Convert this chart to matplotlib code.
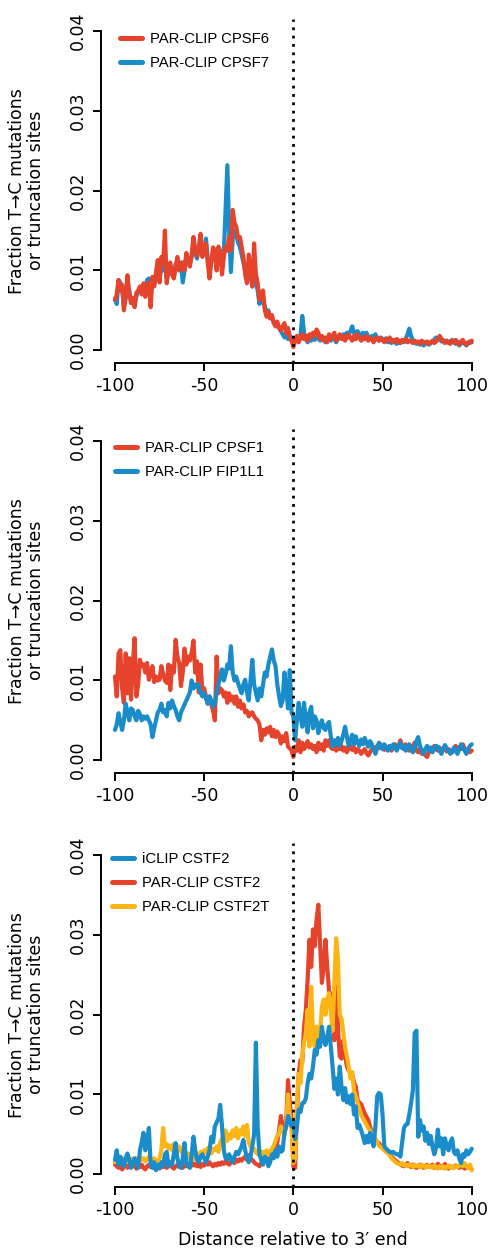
import numpy as np
import matplotlib
matplotlib.use('Agg')
import matplotlib.pyplot as plt

positions = list(range(-100, 101))

# Panel 1
cpsf6 = [
    .0063, .0070, .0088, .0075, .0082, .0050, .0068, .0094, .0072, .0059,
    .0066, .0054, .0072, .0075, .0080, .0070, .0084, .0067, .0078, .0085,
    .0054, .0092, .0080, .0098, .0113, .0085, .0117, .0108, .0150, .0084,
    .0100, .0110, .0095, .0090, .0105, .0117, .0100, .0108, .0110, .0100,
    .0122, .0113, .0105, .0120, .0142, .0125, .0118, .0130, .0146, .0117,
    .0130, .0134, .0110, .0090, .0112, .0129, .0125, .0100, .0130, .0123,
    .0095, .0117, .0130, .0125, .0142, .0125, .0176, .0160, .0155, .0140,
    .0142, .0130, .0117, .0095, .0084, .0120, .0100, .0080, .0134, .0095,
    .0084, .0063, .0070, .0075, .0050, .0042, .0048, .0040, .0044, .0034,
    .0030, .0036, .0028, .0025, .0030, .0034, .0021, .0028, .0017, .0012,
    .0004, .0012, .0018, .0010, .0016, .0020, .0014, .0018, .0012, .0020,
    .0016, .0022, .0018, .0026, .0022, .0014, .0018, .0012, .0016, .0010,
    .0020, .0014, .0018, .0022, .0012, .0016, .0020, .0014, .0018, .0012,
    .0016, .0020, .0015, .0012, .0018, .0014, .0020, .0016, .0012, .0016,
    .0014, .0018, .0012, .0016, .0014, .0010, .0014, .0016, .0012, .0015,
    .0013, .0010, .0014, .0012, .0016, .0011, .0013, .0010, .0014, .0012,
    .0009, .0013, .0011, .0014, .0010, .0012, .0011, .0009, .0012, .0010,
    .0011, .0008, .0012, .0010, .0009, .0011, .0008, .0010, .0012, .0009,
    .0011, .0014, .0018, .0014, .0011, .0009, .0012, .0010, .0008, .0012,
    .0010, .0013, .0009, .0007, .0011, .0013, .0009, .0007, .0010, .0009,
    .0012,
]
cpsf7 = [
    .0065, .0058, .0088, .0085, .0078, .0055, .0065, .0080, .0075, .0062,
    .0060, .0058, .0068, .0072, .0078, .0072, .0080, .0075, .0088, .0090,
    .0068, .0088, .0082, .0094, .0100, .0090, .0105, .0100, .0110, .0090,
    .0098, .0105, .0100, .0092, .0108, .0110, .0102, .0110, .0085, .0100,
    .0115, .0110, .0108, .0118, .0125, .0122, .0115, .0128, .0135, .0120,
    .0125, .0140, .0115, .0100, .0110, .0122, .0120, .0110, .0120, .0125,
    .0105, .0120, .0175, .0232, .0150, .0098, .0140, .0150, .0145, .0135,
    .0130, .0120, .0110, .0100, .0090, .0105, .0095, .0080, .0090, .0085,
    .0075, .0058, .0068, .0060, .0055, .0045, .0050, .0040, .0042, .0035,
    .0032, .0030, .0028, .0024, .0020, .0016, .0018, .0014, .0018, .0012,
    .0010, .0014, .0016, .0012, .0018, .0043, .0022, .0014, .0010, .0016,
    .0012, .0016, .0013, .0018, .0015, .0012, .0016, .0014, .0010, .0014,
    .0016, .0012, .0018, .0014, .0010, .0014, .0018, .0016, .0020, .0018,
    .0022, .0019, .0024, .0030, .0022, .0018, .0024, .0020, .0016, .0022,
    .0018, .0022, .0016, .0014, .0018, .0016, .0020, .0015, .0012, .0016,
    .0014, .0012, .0015, .0010, .0012, .0009, .0012, .0010, .0008, .0011,
    .0009, .0012, .0010, .0014, .0020, .0027, .0018, .0012, .0010, .0008,
    .0010, .0007, .0009, .0006, .0008, .0010, .0007, .0009, .0011, .0013,
    .0016, .0013, .0015, .0011, .0013, .0010, .0012, .0009, .0011, .0013,
    .0010, .0008, .0011, .0006, .0009, .0012, .0008, .0006, .0009, .0011,
    .0010,
]

# Panel 2
cpsf1 = [
    .0105, .0080, .0134, .0138, .0090, .0072, .0134, .0084, .0128, .0076,
    .0120, .0153, .0080, .0095, .0126, .0118, .0120, .0110, .0122, .0101,
    .0110, .0118, .0098, .0105, .0100, .0101, .0118, .0108, .0100, .0097,
    .0120, .0088, .0118, .0110, .0151, .0130, .0122, .0093, .0110, .0140,
    .0120, .0130, .0125, .0135, .0150, .0110, .0124, .0085, .0120, .0088,
    .0090, .0080, .0071, .0080, .0070, .0062, .0050, .0130, .0084, .0090,
    .0088, .0080, .0085, .0072, .0084, .0075, .0080, .0071, .0080, .0067,
    .0075, .0065, .0070, .0060, .0062, .0055, .0059, .0060, .0055, .0052,
    .0050, .0045, .0025, .0038, .0032, .0040, .0035, .0042, .0030, .0038,
    .0029, .0036, .0032, .0021, .0030, .0024, .0034, .0017, .0015, .0012,
    .0004, .0017, .0012, .0025, .0010, .0022, .0014, .0018, .0024, .0016,
    .0020, .0014, .0018, .0010, .0022, .0014, .0020, .0012, .0025, .0018,
    .0025, .0016, .0014, .0018, .0012, .0016, .0014, .0018, .0012, .0016,
    .0010, .0015, .0018, .0013, .0016, .0010, .0014, .0012, .0008, .0011,
    .0014, .0009, .0006, .0010, .0014, .0016, .0012, .0018, .0015, .0020,
    .0016, .0013, .0017, .0014, .0018, .0012, .0016, .0020, .0015, .0018,
    .0025, .0018, .0014, .0020, .0016, .0012, .0018, .0016, .0022, .0012,
    .0010, .0014, .0008, .0012, .0006, .0004, .0010, .0014, .0012, .0018,
    .0014, .0012, .0016, .0010, .0013, .0016, .0011, .0014, .0012, .0010,
    .0014, .0018, .0012, .0016, .0014, .0020, .0015, .0012, .0014, .0010,
    .0012,
]
fip1l1 = [
    .0038, .0045, .0059, .0048, .0038, .0050, .0071, .0060, .0050, .0065,
    .0063, .0055, .0050, .0062, .0058, .0050, .0055, .0052, .0055, .0050,
    .0045, .0029, .0040, .0050, .0060, .0063, .0071, .0060, .0063, .0055,
    .0072, .0065, .0075, .0068, .0063, .0055, .0050, .0060, .0065, .0070,
    .0075, .0080, .0085, .0100, .0090, .0095, .0092, .0095, .0085, .0080,
    .0084, .0078, .0071, .0080, .0075, .0067, .0072, .0085, .0095, .0105,
    .0114, .0100, .0108, .0120, .0115, .0143, .0110, .0100, .0105, .0097,
    .0090, .0084, .0095, .0101, .0085, .0075, .0100, .0126, .0095, .0085,
    .0075, .0090, .0080, .0095, .0110, .0105, .0120, .0130, .0139, .0125,
    .0118, .0095, .0080, .0068, .0075, .0110, .0090, .0065, .0113, .0060,
    .0055, .0025, .0050, .0072, .0055, .0042, .0072, .0050, .0035, .0060,
    .0067, .0040, .0055, .0050, .0034, .0045, .0050, .0040, .0038, .0045,
    .0048, .0030, .0017, .0025, .0020, .0028, .0018, .0024, .0032, .0042,
    .0030, .0018, .0025, .0032, .0020, .0030, .0022, .0018, .0026, .0020,
    .0028, .0022, .0017, .0024, .0020, .0014, .0008, .0016, .0022, .0018,
    .0014, .0020, .0016, .0012, .0018, .0014, .0020, .0016, .0012, .0018,
    .0022, .0015, .0018, .0012, .0016, .0020, .0014, .0010, .0016, .0024,
    .0029, .0018, .0012, .0008, .0014, .0018, .0012, .0016, .0010, .0014,
    .0018, .0017, .0012, .0008, .0014, .0019, .0015, .0012, .0008, .0010,
    .0016, .0012, .0008, .0014, .0020, .0016, .0012, .0008, .0014, .0018,
    .0020,
]

# Panel 3
iclip_cstf2 = [
    .0018, .0030, .0012, .0022, .0015, .0010, .0020, .0026, .0018, .0008,
    .0015, .0020, .0014, .0008, .0030, .0040, .0052, .0030, .0040, .0058,
    .0012, .0008, .0015, .0005, .0012, .0008, .0015, .0010, .0025, .0028,
    .0010, .0015, .0012, .0025, .0039, .0020, .0010, .0008, .0020, .0039,
    .0015, .0010, .0008, .0025, .0047, .0030, .0018, .0015, .0022, .0025,
    .0020, .0015, .0022, .0030, .0047, .0040, .0060, .0065, .0070, .0087,
    .0060, .0030, .0020, .0018, .0025, .0020, .0015, .0022, .0028, .0025,
    .0030, .0035, .0043, .0030, .0020, .0015, .0022, .0035, .0050, .0165,
    .0060, .0025, .0018, .0012, .0022, .0020, .0010, .0015, .0025, .0020,
    .0030, .0022, .0035, .0028, .0030, .0052, .0060, .0073, .0068, .0060,
    .0066, .0044, .0060, .0081, .0078, .0089, .0090, .0095, .0114, .0126,
    .0120, .0135, .0156, .0150, .0168, .0160, .0185, .0170, .0162, .0172,
    .0185, .0160, .0135, .0107, .0120, .0100, .0135, .0110, .0093, .0108,
    .0090, .0098, .0088, .0100, .0075, .0085, .0058, .0062, .0055, .0048,
    .0039, .0048, .0040, .0052, .0042, .0035, .0060, .0098, .0102, .0100,
    .0075, .0035, .0032, .0030, .0028, .0027, .0028, .0026, .0025, .0025,
    .0022, .0040, .0058, .0062, .0063, .0075, .0089, .0105, .0177, .0180,
    .0047, .0068, .0055, .0060, .0042, .0052, .0038, .0048, .0035, .0025,
    .0033, .0056, .0035, .0045, .0025, .0045, .0035, .0030, .0040, .0045,
    .0028, .0025, .0030, .0020, .0014, .0025, .0022, .0030, .0025, .0028,
    .0032,
]
parclip_cstf2 = [
    .0012, .0010, .0008, .0012, .0006, .0010, .0012, .0008, .0011, .0009,
    .0012, .0010, .0007, .0011, .0009, .0012, .0008, .0006, .0010, .0012,
    .0009, .0011, .0008, .0012, .0010, .0007, .0011, .0009, .0012, .0008,
    .0010, .0012, .0009, .0007, .0010, .0012, .0009, .0011, .0008, .0012,
    .0010, .0013, .0010, .0014, .0011, .0013, .0010, .0012, .0009, .0013,
    .0011, .0014, .0012, .0015, .0012, .0010, .0013, .0011, .0014, .0012,
    .0015, .0013, .0016, .0014, .0012, .0015, .0017, .0014, .0018, .0016,
    .0019, .0017, .0020, .0022, .0018, .0024, .0020, .0018, .0015, .0013,
    .0012, .0010, .0014, .0018, .0022, .0020, .0025, .0022, .0028, .0030,
    .0035, .0040, .0055, .0073, .0060, .0050, .0065, .0118, .0090, .0068,
    .0010, .0008, .0076, .0126, .0143, .0140, .0185, .0206, .0244, .0294,
    .0260, .0307, .0286, .0319, .0338, .0290, .0240, .0260, .0294, .0260,
    .0230, .0225, .0219, .0168, .0235, .0185, .0148, .0145, .0168, .0150,
    .0135, .0130, .0128, .0126, .0115, .0110, .0093, .0090, .0088, .0082,
    .0076, .0072, .0068, .0060, .0051, .0046, .0043, .0040, .0039, .0036,
    .0034, .0031, .0030, .0027, .0025, .0022, .0020, .0018, .0016, .0014,
    .0013, .0011, .0010, .0012, .0014, .0011, .0009, .0012, .0010, .0008,
    .0010, .0012, .0011, .0008, .0010, .0012, .0009, .0010, .0012, .0008,
    .0010, .0013, .0011, .0008, .0010, .0013, .0009, .0007, .0010, .0009,
    .0008, .0011, .0010, .0008, .0010, .0009, .0007, .0010, .0008, .0009,
    .0006,
]
parclip_cstf2t = [
    .0015, .0020, .0018, .0014, .0020, .0017, .0022, .0018, .0016, .0020,
    .0018, .0015, .0020, .0017, .0022, .0018, .0020, .0016, .0019, .0022,
    .0018, .0015, .0020, .0017, .0014, .0020, .0030, .0058, .0035, .0038,
    .0032, .0036, .0030, .0038, .0033, .0028, .0035, .0030, .0025, .0030,
    .0022, .0026, .0020, .0024, .0018, .0022, .0020, .0024, .0028, .0025,
    .0030, .0027, .0033, .0030, .0026, .0032, .0030, .0035, .0028, .0040,
    .0045, .0035, .0055, .0042, .0050, .0045, .0055, .0048, .0058, .0045,
    .0055, .0050, .0060, .0048, .0062, .0040, .0035, .0030, .0032, .0028,
    .0025, .0030, .0022, .0028, .0025, .0030, .0024, .0028, .0032, .0036,
    .0042, .0048, .0050, .0060, .0055, .0050, .0060, .0100, .0072, .0058,
    .0014, .0020, .0090, .0126, .0114, .0148, .0165, .0177, .0206, .0160,
    .0235, .0177, .0160, .0185, .0165, .0178, .0210, .0219, .0200, .0219,
    .0227, .0205, .0180, .0240, .0296, .0270, .0200, .0195, .0177, .0160,
    .0148, .0135, .0120, .0128, .0105, .0098, .0090, .0082, .0075, .0070,
    .0066, .0062, .0058, .0055, .0050, .0048, .0045, .0040, .0036, .0034,
    .0032, .0030, .0028, .0026, .0024, .0020, .0018, .0016, .0014, .0013,
    .0012, .0014, .0011, .0012, .0010, .0012, .0011, .0009, .0012, .0010,
    .0011, .0009, .0012, .0010, .0008, .0011, .0009, .0010, .0008, .0011,
    .0009, .0007, .0010, .0008, .0010, .0007, .0009, .0011, .0008, .0010,
    .0008, .0010, .0009, .0011, .0012, .0010, .0014, .0010, .0008, .0012,
    .0005,
]

x_ticks = [-100, -50, 0, 50, 100]
y_ticks = [0.00, 0.01, 0.02, 0.03, 0.04]
y_tick_labels = ['0.00', '0.01', '0.02', '0.03', '0.04']

RED = '#E5432C'
BLUE = '#1B8CCA'
YELLOW = '#FDB515'

W, H = 492, 1250
fig = plt.figure(figsize=(W / 100, H / 100), dpi=100)

# (series, label, color) in draw order; legend order separately
panels = [
    dict(bottom_px=363, series=[(cpsf7, 'PAR-CLIP CPSF7', BLUE), (cpsf6, 'PAR-CLIP CPSF6', RED)],
         legend_order=[1, 0], leg_xy=(120, 32)),
    dict(bottom_px=773, series=[(cpsf1, 'PAR-CLIP CPSF1', RED), (fip1l1, 'PAR-CLIP FIP1L1', BLUE)],
         legend_order=[0, 1], leg_xy=(115, 441)),
    dict(bottom_px=1187, series=[(parclip_cstf2, 'PAR-CLIP CSTF2', RED),
                                 (parclip_cstf2t, 'PAR-CLIP CSTF2T', YELLOW),
                                 (iclip_cstf2, 'iCLIP CSTF2', BLUE)],
         legend_order=[2, 0, 1], leg_xy=(112, 852)),
]

left_px, width_px, height_px = 100.7, 385.3, 344.5

for i, p in enumerate(panels):
    ax = fig.add_axes([left_px / W, (H - p['bottom_px']) / H, width_px / W, height_px / H])
    handles = []
    for vals, label, color in p['series']:
        h, = ax.plot(positions, vals, color=color, lw=3.0, solid_capstyle='round',
                     solid_joinstyle='round', label=label)
        handles.append(h)
    ax.axvline(0, color='black', lw=2.0, linestyle=(0, (1, 2.0)), zorder=5)
    ax.set_xlim(-108, 108)
    ax.set_ylim(-0.0016, 0.0416)
    for s in ['top', 'right']:
        ax.spines[s].set_visible(False)
    ax.spines['left'].set_bounds(0, 0.04)
    ax.spines['bottom'].set_bounds(-100, 100)
    for s in ['left', 'bottom']:
        ax.spines[s].set_linewidth(1.4)
    ax.set_xticks(x_ticks)
    ax.set_xticklabels([str(t) for t in x_ticks])
    ax.set_yticks(y_ticks)
    ax.set_yticklabels(y_tick_labels)
    ax.tick_params(axis='both', direction='out', length=5.5, width=1.4, labelsize=12.5)
    ax.tick_params(axis='x', pad=4.5)
    ax.tick_params(axis='y', pad=4.5, labelrotation=90)
    for lab in ax.get_yticklabels():
        lab.set_va('center')
    ax.set_ylabel('Fraction T\u2192C mutations\nor truncation sites', fontsize=12.5, linespacing=1.05)
    ax.yaxis.set_label_coords(-0.145, 0.5)
    if i == 2:
        ax.set_xlabel('Distance relative to 3\u2032 end', fontsize=12.5)
        ax.xaxis.set_label_coords(0.5, -0.128)
    lx, ly = p['leg_xy']
    ordered = [handles[k] for k in p['legend_order']]
    leg = ax.legend(ordered, [h.get_label() for h in ordered], loc='upper left',
                    bbox_to_anchor=((lx - left_px) / width_px, (p['bottom_px'] - ly) / height_px),
                    frameon=False, borderpad=0, borderaxespad=0, handlelength=1.5,
                    handletextpad=0.55, labelspacing=0.68,
                    prop={'family': ['Liberation Sans', 'DejaVu Sans'], 'size': 10.7})
    for lh in leg.get_lines():
        lh.set_linewidth(3.6)

fig.savefig('out.png', dpi=100)
